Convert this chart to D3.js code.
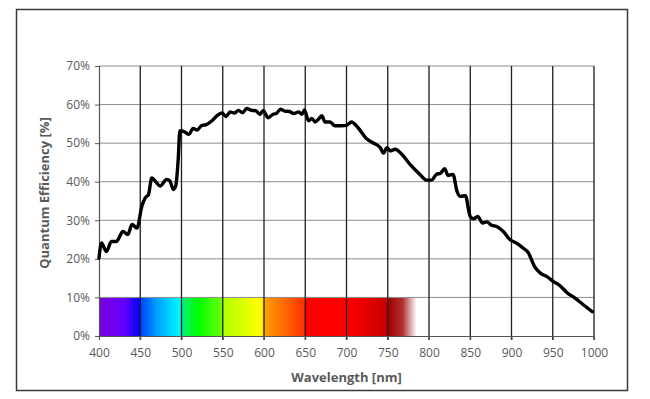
<!DOCTYPE html>
<html>
<head>
<meta charset="utf-8">
<script src="https://cdn.jsdelivr.net/npm/d3@7"></script>
<style>
  body { margin: 0; background: #fff; }
  svg { display: block; }
</style>
</head>
<body>
<div id="chart"></div>
<script>
// QE curve (wavelength nm, efficiency %)
const wavelengths = [400, 403, 409, 415, 421, 429, 435, 440, 446, 452, 456, 460, 464, 468, 474, 482, 486, 490, 493, 496, 498,
  504, 509, 514, 519, 524, 530, 537, 543, 549, 554, 559, 564, 569, 574, 579, 585, 590, 595, 599,
  605, 611, 615, 620, 625, 631, 636, 642, 646, 649, 654, 658, 662, 666, 670, 674, 680, 686, 694, 700,
  706, 714, 724, 732, 741, 745, 749, 753, 759, 767, 777, 789, 797, 803, 809, 814, 819, 823, 829,
  834, 838, 844, 850, 854, 859, 865, 870, 876, 882, 890, 898, 906, 914, 920, 928, 935, 943, 951,
  959, 967, 977, 987, 998];
const efficiency = [20.2, 24.1, 21.9, 24.5, 24.5, 27.1, 26.3, 28.9, 28.0, 33.7, 35.8, 36.7, 41.0, 40.2, 38.9, 40.6, 40.2, 38.0, 38.9, 45.8, 53.2,
  52.9, 52.3, 53.8, 53.4, 54.5, 54.8, 55.8, 57.1, 57.8, 56.9, 58.1, 57.8, 58.5, 57.9, 59.0, 58.5, 58.4, 57.5, 58.4,
  56.6, 57.5, 57.7, 58.8, 58.3, 58.2, 57.7, 58.1, 57.5, 58.6, 55.8, 56.4, 55.5, 56.2, 57.1, 55.5, 55.5, 54.5, 54.5, 54.6,
  55.5, 54.0, 51.2, 50.1, 48.8, 47.4, 48.8, 48.0, 48.4, 47.1, 44.5, 41.9, 40.4, 40.4, 41.9, 42.2, 43.4, 41.6, 41.9,
  37.5, 36.2, 36.4, 31.0, 30.4, 31.0, 29.3, 29.6, 28.7, 28.4, 27.1, 25.0, 24.1, 22.8, 21.7, 18.0, 16.3, 15.4, 14.1,
  13.0, 11.3, 9.8, 8.1, 6.3];

const xTicks = [400, 450, 500, 550, 600, 650, 700, 750, 800, 850, 900, 950, 1000];
const yTicks = [0, 10, 20, 30, 40, 50, 60, 70];

// spectrum band colour stops (nm, colour)
const spectrumNm = [400, 430, 450, 450, 470, 500, 500, 520, 550, 550, 595, 600, 600, 650, 650, 700, 700, 750, 750, 768, 785];
const spectrumColor = ["#7a00d8", "#6400ff", "#0000ff", "#0040ff", "#00a0ff", "#00ffff", "#00f080", "#00ff00", "#70ff00",
  "#b0ff00", "#ffff00", "#ffe000", "#ffa000", "#ff3000", "#ff0000", "#ff0000", "#ff0000", "#c80000", "#a00000", "#b03030", "#ffffff"];
const spectrumEnd = 785;
const spectrumTop = 10;

const size = { width: 650, height: 399 };
const plot = { left: 99, right: 594, top: 66, bottom: 336 };
const font = "'Open Sans', 'Noto Sans', sans-serif";

const x = d3.scaleLinear().domain([400, 1000]).range([plot.left, plot.right]);
const y = d3.scaleLinear().domain([0, 70]).range([plot.bottom, plot.top]);

const svg = d3.select("#chart").append("svg")
  .attr("width", size.width)
  .attr("height", size.height);

// outer frame
svg.append("rect")
  .attr("x", 16.5).attr("y", 9.5)
  .attr("width", 611).attr("height", 381)
  .attr("fill", "#fff")
  .attr("stroke", "#3a3a3a")
  .attr("stroke-width", 1.5);

// spectrum gradient
const grad = svg.append("defs").append("linearGradient")
  .attr("id", "spectrum")
  .attr("gradientUnits", "userSpaceOnUse")
  .attr("x1", x(400)).attr("x2", x(spectrumEnd))
  .attr("y1", 0).attr("y2", 0);
spectrumNm.forEach((nm, i) => {
  grad.append("stop")
    .attr("offset", (nm - 400) / (spectrumEnd - 400))
    .attr("stop-color", spectrumColor[i]);
});

svg.append("rect")
  .attr("x", x(400))
  .attr("y", y(spectrumTop))
  .attr("width", x(spectrumEnd) - x(400))
  .attr("height", y(0) - y(spectrumTop))
  .attr("fill", "url(#spectrum)");

// horizontal gridlines
svg.append("g")
  .selectAll("line")
  .data(yTicks.filter(d => d > 0))
  .join("line")
  .attr("x1", plot.left).attr("x2", plot.right)
  .attr("y1", d => y(d)).attr("y2", d => y(d))
  .attr("stroke", "#8c8c8c")
  .attr("stroke-width", 1);

// vertical gridlines
svg.append("g")
  .selectAll("line")
  .data(xTicks.filter(d => d > 400))
  .join("line")
  .attr("x1", d => x(d)).attr("x2", d => x(d))
  .attr("y1", plot.top).attr("y2", plot.bottom + 4)
  .attr("stroke", "#1e1e1e")
  .attr("stroke-width", 1.3);

// axes
const yAxis = d3.axisLeft(y).tickValues(yTicks).tickFormat(d => d + "%").tickSize(4).tickPadding(5);
const yG = svg.append("g")
  .attr("transform", `translate(${plot.left}, 0)`)
  .call(yAxis);
yG.select(".domain").attr("stroke", "#555").attr("stroke-width", 1.2);
yG.selectAll(".tick line").attr("stroke", "#555");
yG.selectAll("text")
  .style("font-family", font).style("font-size", "12px").attr("fill", "#595959");

const xAxis = d3.axisBottom(x).tickValues(xTicks).tickFormat(d3.format("d")).tickSize(4).tickPadding(8);
const xG = svg.append("g")
  .attr("transform", `translate(0, ${plot.bottom})`)
  .call(xAxis);
xG.select(".domain").attr("stroke", "#555").attr("stroke-width", 1.2);
xG.selectAll(".tick line").attr("stroke", "#555");
xG.selectAll("text")
  .style("font-family", font).style("font-size", "12px").attr("fill", "#595959");

// QE curve
const points = wavelengths.map((w, i) => [w, efficiency[i]]);
const line = d3.line()
  .x(d => x(d[0]))
  .y(d => y(d[1]))
  .curve(d3.curveMonotoneX);

svg.append("path")
  .datum(points)
  .attr("d", line)
  .attr("fill", "none")
  .attr("stroke", "#000")
  .attr("stroke-width", 3.4)
  .attr("stroke-linejoin", "round")
  .attr("stroke-linecap", "round");

// axis titles
svg.append("text")
  .attr("x", (plot.left + plot.right) / 2)
  .attr("y", 382)
  .attr("text-anchor", "middle")
  .style("font-family", font).style("font-size", "13px").style("font-weight", "bold")
  .attr("fill", "#595959")
  .text("Wavelength [nm]");

svg.append("text")
  .attr("transform", `translate(49, ${(plot.top + plot.bottom) / 2 - 8}) rotate(-90)`)
  .attr("text-anchor", "middle")
  .style("font-family", font).style("font-size", "13px").style("font-weight", "bold")
  .attr("fill", "#595959")
  .text("Quantum Efficiency [%]");
</script>
</body>
</html>
